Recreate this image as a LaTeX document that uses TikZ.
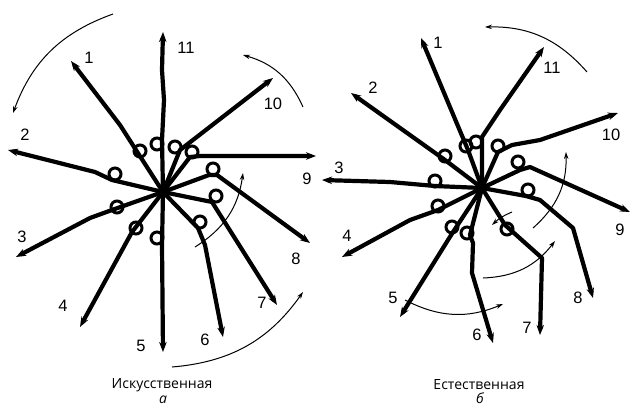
\documentclass[tikz,border=0pt]{standalone}
\usepackage{fontspec}
\setmainfont{Liberation Sans}
\newfontfamily\captfont{Open Sans}
\usetikzlibrary{arrows.meta}
\tikzset{beam/.style={line width=4.2pt, line join=round, line cap=round, -{Stealth[length=10pt,width=7.5pt]}}}
\tikzset{curl/.style={line width=3pt}}
\tikzset{swing/.style={line width=1pt, -{Stealth[length=7pt,width=4.5pt]}, bend right=25}}
\tikzset{num/.style={font=\fontsize{16.5}{18}\selectfont}}
\tikzset{capt/.style={font=\captfont\fontsize{14}{16}\selectfont}}

\begin{document}
\begin{tikzpicture}[x=1pt,y=-1pt]
	\useasboundingbox (0,0) rectangle (633,408);
	\begin{scope}
		%arms left
		\draw[beam] (163,192) -- (162,140) -- (164,100) -- (162,70) -- (163,32);
		\draw[beam] (163,192) -- (136,150) -- (120,125) -- (71,61);
		\draw[beam] (163,192) -- (112,180) -- (95,172) -- (8,150);
		\draw[beam] (163,192) -- (112,210) -- (90,218) -- (16,257);
		\draw[beam] (163,192) -- (132,232) -- (80,327);
		\draw[beam] (163,192) -- (162,245) -- (163,352);
		\draw[beam] (163,192) -- (198,228) -- (205,245) -- (223,337);
		\draw[beam] (163,192) -- (212,202) -- (277,305);
		\draw[beam] (163,192) -- (209,175) -- (217,175) -- (310,243);
		\draw[beam] (163,192) -- (190,157) -- (200,156) -- (316,156);
		\draw[beam] (163,192) -- (180,150) -- (273,78);
		%curls left
		\foreach \x/\y in {140/151, 157/144, 175/147, 192/152, 213/169, 216/196, 200/222, 157/238, 136/228, 117/207, 115/174}
			\draw[curl] (\x,\y) circle (6pt);
		%numbers left
		\node[num] (l1) at (89,58) {1};
		\node[num] (l2) at (25,135) {2};
		\node[num] (l3) at (22,237) {3};
		\node[num] (l4) at (63,306) {4};
		\node[num] (l5) at (141,346) {5};
		\node[num] (l6) at (205,340) {6};
		\node[num] (l7) at (262,303) {7};
		\node[num] (l8) at (296,259) {8};
		\node[num] (l9) at (307,179) {9};
		\node[num] (l10) at (273,104) {10};
		\node[num] (l11) at (186,48) {11};
		%turns left
		\draw[swing] (113,14) to (13,113);
		\draw[swing] (303,107) to (243,55);
		\draw[swing] (195,247) to (243,173);
		\draw[swing] (172,367) to (303,292);
		%caption left
		\node[capt] (lcap) at (162,385) {Искусственная};
		\node[capt, anchor=base, inner sep=0pt] (la) at (163,403) {\itshape а};
	\end{scope}
	\begin{scope}
		%arms right
		\draw[beam] (482,188) -- (468,150) -- (421,38);
		\draw[beam] (482,188) -- (482,137) -- (500,110) -- (544,47);
		\draw[beam] (482,188) -- (498,152) -- (512,145) -- (540,140) -- (618,113);
		\draw[beam] (482,188) -- (520,170) -- (530,167) -- (630,212);
		\draw[beam] (482,188) -- (526,196) -- (540,200) -- (573,228) -- (593,298);
		\draw[beam] (482,188) -- (505,225) -- (542,258) -- (540,335);
		\draw[beam] (482,188) -- (470,235) -- (473,243) -- (472,273) -- (493,343);
		\draw[beam] (482,188) -- (453,232) -- (400,317);
		\draw[beam] (482,188) -- (438,210) -- (410,220) -- (342,257);
		\draw[beam] (482,188) -- (435,186) -- (390,182) -- (322,180);
		\draw[beam] (482,188) -- (445,160) -- (351,93);
		%curls right
		\foreach \x/\y in {466/146, 476/142, 498/146, 518/162, 528/190, 507/229, 467/233, 452/227, 438/206, 435/181, 445/156}
			\draw[curl] (\x,\y) circle (6pt);
		%numbers right
		\node[num] (r1) at (438,43) {1};
		\node[num] (r2) at (373,88) {2};
		\node[num] (r3) at (339,168) {3};
		\node[num] (r4) at (347,236) {4};
		\node[num] (r5) at (393,298) {5};
		\node[num] (r6) at (477,335) {6};
		\node[num] (r7) at (527,328) {7};
		\node[num] (r8) at (578,298) {8};
		\node[num] (r9) at (620,230) {9};
		\node[num] (r10) at (611,135) {10};
		\node[num] (r11) at (552,68) {11};
		%turns right
		\draw[swing] (587,72) to (485,27);
		\draw[swing] (533,228) to (566,152);
		\draw[swing] (483,278) to (555,241);
		\draw[swing] (405,300) to (503,304);
		\draw[swing, bend right=10] (512,212) to (492,225);
		%caption right
		\node[capt] (rcap) at (479,385) {Естественная};
		\node[capt, anchor=base, inner sep=0pt] (rb) at (480,403) {\itshape б};
	\end{scope}
\end{tikzpicture}
\end{document}
